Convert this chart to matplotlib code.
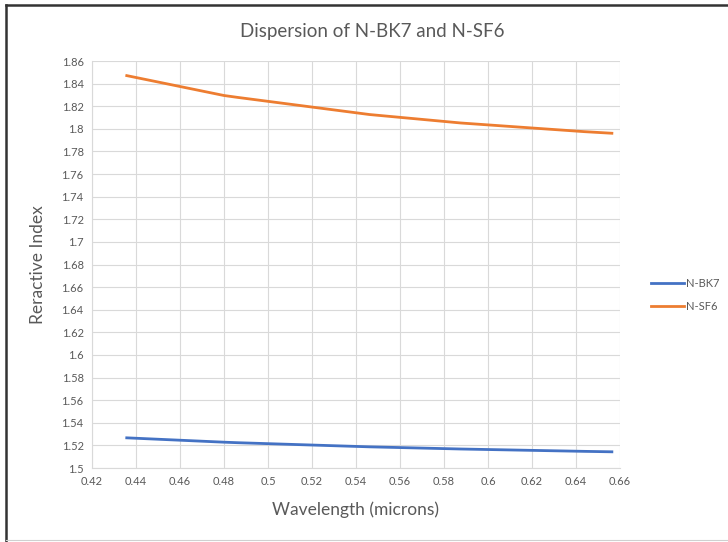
import matplotlib
matplotlib.use("Agg")
import matplotlib.pyplot as plt
from matplotlib.lines import Line2D
import numpy as np

# Fraunhofer lines (microns) and refractive indices
wavelength = [0.4358, 0.4800, 0.4861, 0.5461, 0.5876, 0.6438, 0.6563]
n_bk7 = [1.52668, 1.52283, 1.52238, 1.51872, 1.51680, 1.51472, 1.51432]
n_sf6 = [1.84707, 1.82948, 1.82783, 1.81266, 1.80518, 1.79750, 1.79609]

x_ticks = np.arange(0.42, 0.661, 0.02)
y_ticks = np.arange(1.50, 1.861, 0.02)

text_col = "#595959"
plt.rcParams['font.family'] = ['Lato', 'DejaVu Sans']

fig = plt.figure(figsize=(7.28, 5.42), dpi=100)
# screenshot frame: dark top and left edges, faint bottom edge
W, H = 728, 542
fig.lines.append(Line2D([6/W, 1], [1 - 5/H, 1 - 5/H], transform=fig.transFigure,
                        color="#333333", linewidth=1.8))
fig.lines.append(Line2D([6/W, 6/W], [0, 1 - 5/H], transform=fig.transFigure,
                        color="#333333", linewidth=1.8))
fig.lines.append(Line2D([6/W, 1], [1 - 540/H, 1 - 540/H], transform=fig.transFigure,
                        color="#D0D0D0", linewidth=0.8))

ax = fig.add_axes([92/W, 1 - 468/H, 528/W, 407/H])
ax.plot(wavelength, n_bk7, color="#4472C4", linewidth=2, label="N-BK7")
ax.plot(wavelength, n_sf6, color="#ED7D31", linewidth=2, label="N-SF6")

ax.set_xlim(0.42, 0.66)
ax.set_ylim(1.5, 1.86)
ax.set_xticks(x_ticks)
ax.set_yticks(y_ticks)
ax.set_xticklabels([f"{v:.2f}".rstrip("0").rstrip(".") for v in x_ticks])
ax.set_yticklabels([f"{v:.2f}".rstrip("0").rstrip(".") for v in y_ticks])
ax.tick_params(length=0, labelsize=8, colors=text_col, pad=6)
ax.grid(True, color="#D9D9D9", linewidth=0.8)
ax.set_axisbelow(True)
for side in ["top", "right"]:
    ax.spines[side].set_visible(False)
for side in ["left", "bottom"]:
    ax.spines[side].set_color("#D9D9D9")

ax.set_xlabel("Wavelength (microns)", fontsize=12.5, color=text_col, labelpad=10)
ax.set_ylabel("Reractive Index", fontsize=12.5, color=text_col, labelpad=11)
fig.text(372/W, 1 - 31/H, "Dispersion of N-BK7 and N-SF6", fontsize=13.5,
         color=text_col, ha="center", va="center")

ax.legend(loc="center left", bbox_to_anchor=(1.04, 0.425), frameon=False, fontsize=8,
          labelcolor=text_col, handlelength=3, handletextpad=0.1, labelspacing=1.1)

fig.savefig("out.png", dpi=100)
